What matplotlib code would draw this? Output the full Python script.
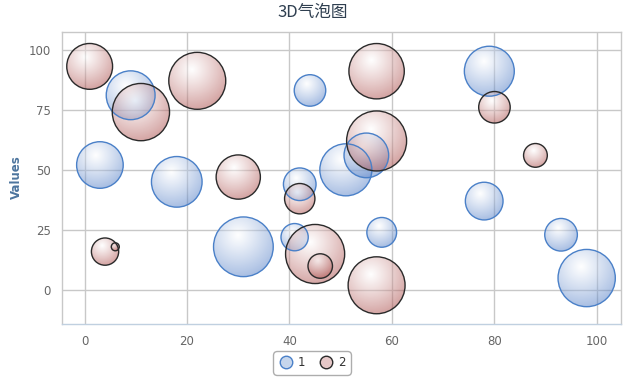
import numpy as np
import matplotlib
matplotlib.use("Agg")
import matplotlib.pyplot as plt
from matplotlib.patches import Ellipse
from matplotlib.lines import Line2D

# series 1 (blue)
x1 = [9, 3, 18, 44, 42, 51, 55, 31, 41, 58, 79, 78, 93, 98]
y1 = [81, 52, 45, 83, 44, 50, 56, 18, 22, 24, 91, 37, 23, 5]
z1 = [66, 60, 71, 27, 29, 75, 55, 99, 20, 24, 69, 39, 29, 91]

# series 2 (red)
x2 = [1, 11, 22, 30, 42, 4, 6, 45, 46, 57, 57, 57, 80, 88]
y2 = [93, 74, 87, 47, 38, 16, 18, 15, 10, 2, 91, 62, 76, 56]
z2 = [58, 91, 90, 54, 25, 20, 1, 97, 16, 90, 85, 100, 27, 15]

series = [("1", x1, y1, z1, (0.33, 0.50, 0.78), "#4a80c8"),
          ("2", x2, y2, z2, (0.67, 0.30, 0.29), "#2a2a2a")]

W, H = 626, 385
fig = plt.figure(figsize=(W / 100, H / 100), dpi=100)
L, R, T, B = 62, 621, 32, 324
ax = fig.add_axes([L / W, 1 - B / H, (R - L) / W, (B - T) / H])
ax.set_xlim(-4.4, 104.7)
ax.set_ylim(-14.1, 107.3)
ax.set_xticks([0, 20, 40, 60, 80, 100])
ax.set_yticks([0, 25, 50, 75, 100])
ax.grid(True, color="#c8c8c8", lw=1)
ax.set_axisbelow(True)
for s in ax.spines.values():
    s.set_color("#c8c8c8")
    s.set_linewidth(1)
ax.spines["bottom"].set_color("#c0d0e0")
ax.tick_params(length=0, labelsize=8.5, labelcolor="#666666", pad=8)

# pixels per data unit
p0 = ax.transData.transform((0, 0))
p1 = ax.transData.transform((1, 1))
sx, sy = p1[0] - p0[0], p1[1] - p0[1]

allz = z1 + z2
zmin, zmax = min(allz), max(allz)
rmin, rmax = 4.0, 30.0

# radial gradient, highlight up-left like highcharts (cx .4, cy .3, r .7)
N = 64
gy, gx = np.mgrid[0:N, 0:N] / (N - 1)
t = np.clip(np.hypot(gx - 0.4, gy - 0.3) / 0.7, 0, 1)

for name, xs, ys, zs, col, edge in series:
    img = np.zeros((N, N, 4))
    for i in range(3):
        img[..., i] = 1 + (col[i] - 1) * t
    img[..., 3] = 0.45 + 0.05 * t
    for x, y, z in zip(xs, ys, zs):
        pos = (z - zmin) / (zmax - zmin)
        r = np.sqrt(rmin ** 2 + pos * (rmax ** 2 - rmin ** 2))
        rx, ry = r / sx, r / sy
        clip = Ellipse((x, y), 2 * rx, 2 * ry, transform=ax.transData,
                       fc="none", ec="none")
        ax.add_patch(clip)
        im = ax.imshow(img, extent=[x - rx, x + rx, y - ry, y + ry],
                       aspect="auto", origin="upper", interpolation="bilinear",
                       zorder=2)
        im.set_clip_path(clip)
        ax.add_patch(Ellipse((x, y), 2 * rx, 2 * ry, fc="none", ec=edge,
                             lw=1, zorder=3))
ax.set_xlim(-4.4, 104.7)
ax.set_ylim(-14.1, 107.3)

fig.text(313 / W, 1 - 13 / H, "3D气泡图", ha="center", va="center",
         fontsize=12, color="#2f3f50",
         family=["Noto Sans CJK SC", "DejaVu Sans"])
fig.text(16 / W, 1 - 177 / H, "Values", rotation=90, ha="center", va="center",
         fontsize=8.5, fontweight="bold", color="#4d759e")

handles = [Line2D([], [], ls="none", marker="o", ms=9, mfc="#c6d6ec",
                  mec="#4a80c8", mew=1),
           Line2D([], [], ls="none", marker="o", ms=9, mfc="#e6c8c8",
                  mec="#2a2a2a", mew=1)]
leg = fig.legend(handles, ["1", "2"], loc="center", ncol=2,
                 bbox_to_anchor=(312 / W, 1 - 363 / H), frameon=True,
                 fontsize=8.5, handletextpad=0.4, columnspacing=1.2,
                 borderpad=0.5, handlelength=1.2, borderaxespad=0)
leg.get_frame().set_edgecolor("#999999")
leg.get_frame().set_linewidth(1)
leg.get_frame().set_boxstyle("round,pad=0,rounding_size=0.4")
for txt in leg.get_texts():
    txt.set_color("#333333")

fig.savefig("out.png", dpi=100)
